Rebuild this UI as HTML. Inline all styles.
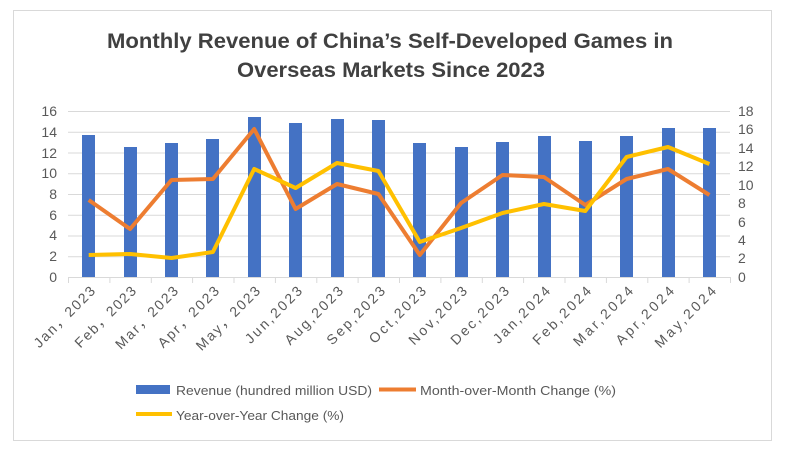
<!DOCTYPE html>
<html><head><style>body{margin:0;background:#fff}</style></head><body>
<svg width="800" height="467" xmlns="http://www.w3.org/2000/svg" font-family="Liberation Sans, sans-serif">
<rect x="0" y="0" width="800" height="467" fill="#fff"/>
<rect x="13.5" y="10.5" width="758" height="430" fill="none" stroke="#d9d9d9"/>
<g font-weight="bold" font-size="21" fill="#404040">
<text x="107" y="48" textLength="566" lengthAdjust="spacingAndGlyphs">Monthly Revenue of China’s Self-Developed Games in</text>
<text x="237" y="77" textLength="308" lengthAdjust="spacingAndGlyphs">Overseas Markets Since 2023</text>
</g>
<g stroke="#d9d9d9" stroke-width="1">
<line x1="68" y1="111.5" x2="730" y2="111.5"/><line x1="68" y1="132.2" x2="730" y2="132.2"/>
<line x1="68" y1="153" x2="730" y2="153"/><line x1="68" y1="173.7" x2="730" y2="173.7"/>
<line x1="68" y1="194.5" x2="730" y2="194.5"/><line x1="68" y1="215.2" x2="730" y2="215.2"/>
<line x1="68" y1="236" x2="730" y2="236"/><line x1="68" y1="256.7" x2="730" y2="256.7"/>
<line x1="68" y1="277.5" x2="730" y2="277.5"/>
<line x1="68.5" y1="277" x2="68.5" y2="283"/><line x1="109.9" y1="277" x2="109.9" y2="283"/><line x1="151.3" y1="277" x2="151.3" y2="283"/><line x1="192.6" y1="277" x2="192.6" y2="283"/><line x1="234" y1="277" x2="234" y2="283"/><line x1="275.4" y1="277" x2="275.4" y2="283"/><line x1="316.8" y1="277" x2="316.8" y2="283"/><line x1="358.1" y1="277" x2="358.1" y2="283"/><line x1="399.5" y1="277" x2="399.5" y2="283"/><line x1="440.9" y1="277" x2="440.9" y2="283"/><line x1="482.3" y1="277" x2="482.3" y2="283"/><line x1="523.6" y1="277" x2="523.6" y2="283"/><line x1="565" y1="277" x2="565" y2="283"/><line x1="606.4" y1="277" x2="606.4" y2="283"/><line x1="647.8" y1="277" x2="647.8" y2="283"/><line x1="689.1" y1="277" x2="689.1" y2="283"/><line x1="730.5" y1="277" x2="730.5" y2="283"/>
</g>
<g fill="#595959" font-size="14" text-anchor="end">
<text x="57" y="116">16</text><text x="57" y="137">14</text><text x="57" y="158">12</text><text x="57" y="178">10</text><text x="57" y="199">8</text><text x="57" y="220">6</text><text x="57" y="240">4</text><text x="57" y="261">2</text><text x="57" y="282">0</text>
</g>
<g fill="#595959" font-size="14" text-anchor="start">
<text x="738" y="116">18</text><text x="738" y="134">16</text><text x="738" y="153">14</text><text x="738" y="171">12</text><text x="738" y="190">10</text><text x="738" y="208">8</text><text x="738" y="227">6</text><text x="738" y="245">4</text><text x="738" y="263">2</text><text x="738" y="282">0</text>
</g>
<g fill="#4472c4">
<rect x="82" y="135" width="13" height="142"/><rect x="124" y="147" width="13" height="130"/><rect x="165" y="143" width="13" height="134"/><rect x="206" y="139" width="13" height="138"/><rect x="248" y="117" width="13" height="160"/><rect x="289" y="123" width="13" height="154"/><rect x="331" y="119" width="13" height="158"/><rect x="372" y="120" width="13" height="157"/><rect x="413" y="143" width="13" height="134"/><rect x="455" y="147" width="13" height="130"/><rect x="496" y="142" width="13" height="135"/><rect x="538" y="136" width="13" height="141"/><rect x="579" y="141" width="13" height="136"/><rect x="620" y="136" width="13" height="141"/><rect x="662" y="128" width="13" height="149"/><rect x="703" y="128" width="13" height="149"/>
</g>
<polyline fill="none" stroke="#ed7d31" stroke-width="4" stroke-linejoin="round" points="88.7,200 130.1,229 171.5,180 212.9,179 254.2,129 295.6,209 337,184 378.4,194 419.8,255 461.1,203 502.5,175 543.9,177 585.3,205 626.6,179 668,169 709.4,195"/>
<polyline fill="none" stroke="#ffc000" stroke-width="4" stroke-linejoin="round" points="88.7,255 130.1,254 171.5,258 212.9,252 254.2,169 295.6,188 337,163 378.4,171 419.8,242 461.1,228 502.5,213 543.9,204 585.3,211 626.6,157 668,147 709.4,164"/>
<g fill="#595959" font-size="14" text-anchor="end" lengthAdjust="spacingAndGlyphs">
<text transform="translate(96,292) rotate(-45)" textLength="80">Jan，2023</text>
<text transform="translate(137,292) rotate(-45)" textLength="80">Feb，2023</text>
<text transform="translate(179,292) rotate(-45)" textLength="82">Mar，2023</text>
<text transform="translate(220,292) rotate(-45)" textLength="80">Apr，2023</text>
<text transform="translate(261,292) rotate(-45)" textLength="84">May，2023</text>
<text transform="translate(303,292) rotate(-45)" textLength="74">Jun,2023</text>
<text transform="translate(344,292) rotate(-45)" textLength="76">Aug,2023</text>
<text transform="translate(386,292) rotate(-45)" textLength="76">Sep,2023</text>
<text transform="translate(427,292) rotate(-45)" textLength="74">Oct,2023</text>
<text transform="translate(468,292) rotate(-45)" textLength="76">Nov,2023</text>
<text transform="translate(510,292) rotate(-45)" textLength="76">Dec,2023</text>
<text transform="translate(551,292) rotate(-45)" textLength="74">Jan,2024</text>
<text transform="translate(592,292) rotate(-45)" textLength="76">Feb,2024</text>
<text transform="translate(634,292) rotate(-45)" textLength="78">Mar,2024</text>
<text transform="translate(675,292) rotate(-45)" textLength="76">Apr,2024</text>
<text transform="translate(717,292) rotate(-45)" textLength="80">May,2024</text>
</g>
<rect x="136" y="385" width="34" height="9" fill="#4472c4"/>
<line x1="379" y1="389.5" x2="416" y2="389.5" stroke="#ed7d31" stroke-width="4"/>
<line x1="136" y1="414" x2="172" y2="414" stroke="#ffc000" stroke-width="4"/>
<g fill="#595959" font-size="13">
<text x="176" y="395" textLength="196" lengthAdjust="spacingAndGlyphs">Revenue (hundred million USD)</text>
<text x="420" y="395" textLength="196" lengthAdjust="spacingAndGlyphs">Month-over-Month Change (%)</text>
<text x="176" y="420" textLength="168" lengthAdjust="spacingAndGlyphs">Year-over-Year Change (%)</text>
</g>
</svg>
</body></html>
